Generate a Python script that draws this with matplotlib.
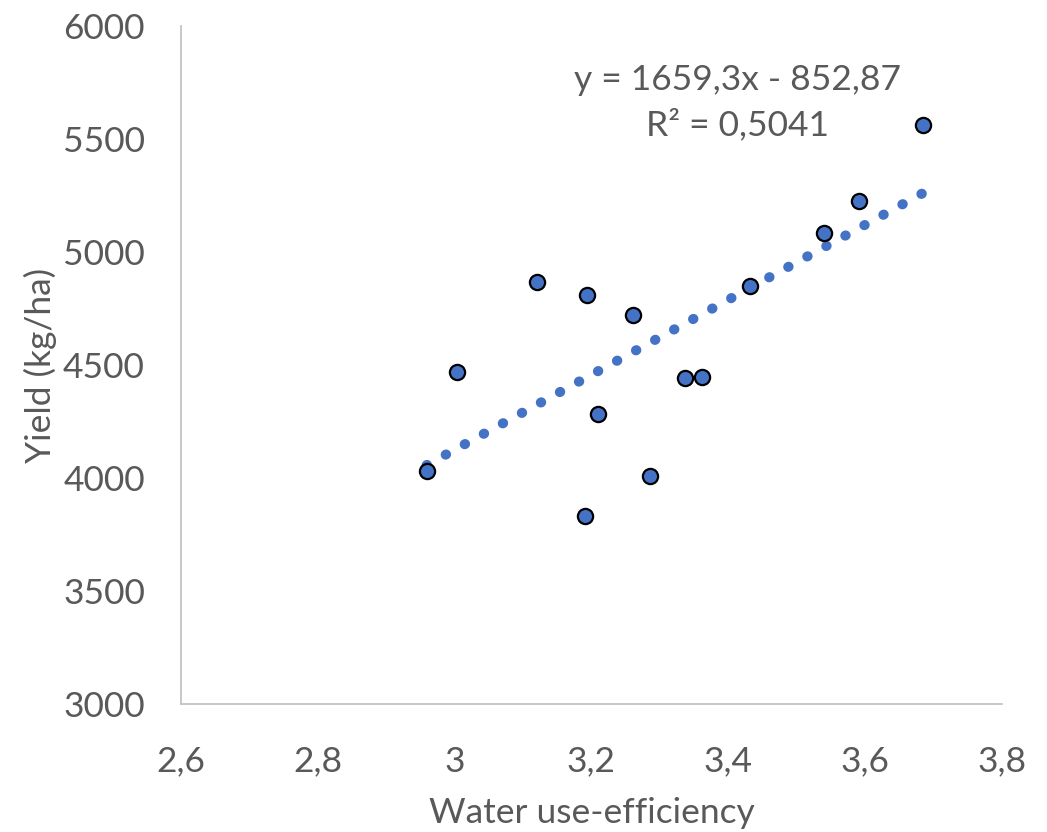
import matplotlib
matplotlib.use("Agg")
import matplotlib.pyplot as plt
import numpy as np

wue = [2.959, 3.004, 3.120, 3.194, 3.191, 3.210, 3.260, 3.285, 3.336, 3.362, 3.431, 3.540, 3.591, 3.685]
yield_kg = [4031, 4471, 4868, 4811, 3833, 4282, 4722, 4009, 4441, 4445, 4850, 5084, 5225, 5564]
slope, intercept = 1659.3, -852.87
xticks = [2.6, 2.8, 3.0, 3.2, 3.4, 3.6, 3.8]
xticklabels = ["2,6", "2,8", "3", "3,2", "3,4", "3,6", "3,8"]
yticks = [3000, 3500, 4000, 4500, 5000, 5500, 6000]

plt.rcParams['font.family'] = ['Lato', 'DejaVu Sans']
gray = '#595959'
blue = '#4472C4'
fs = 25.5

fig = plt.figure(figsize=(10.47, 8.32), dpi=100)
ax = fig.add_axes([181/1047, 1-704/832, (1002-181)/1047, (704-26)/832])

xs = np.array([min(wue), max(wue)])
ax.plot(xs, slope*xs + intercept, color=blue, lw=7.2,
        linestyle=(0, (0.05, 2.12)), dash_capstyle='round', zorder=2)
ax.scatter(wue, yield_kg, s=120, color=blue, edgecolor='black', linewidth=1.6, zorder=3)

ax.set_xlim(2.6, 3.8)
ax.set_ylim(3000, 6000)
ax.set_xticks(xticks)
ax.set_xticklabels(xticklabels)
ax.set_yticks(yticks)
for s in ['top', 'right']:
    ax.spines[s].set_visible(False)
for s in ['left', 'bottom']:
    ax.spines[s].set_color('#BFBFBF')
    ax.spines[s].set_linewidth(1.2)
ax.tick_params(length=0, labelsize=fs, colors=gray)
ax.tick_params(axis='x', pad=30)
ax.tick_params(axis='y', pad=26)

ax.set_xlabel("Water use-efficiency", fontsize=fs, color=gray, labelpad=14)
ax.set_ylabel("Yield (kg/ha)", fontsize=fs, color=gray, labelpad=4)

ax.text(3.414, 5660, "y = 1659,3x - 852,87\nR² = 0,5041", ha='center', va='center',
        fontsize=fs, color=gray, linespacing=1.45)

fig.savefig("out.png", dpi=100)
